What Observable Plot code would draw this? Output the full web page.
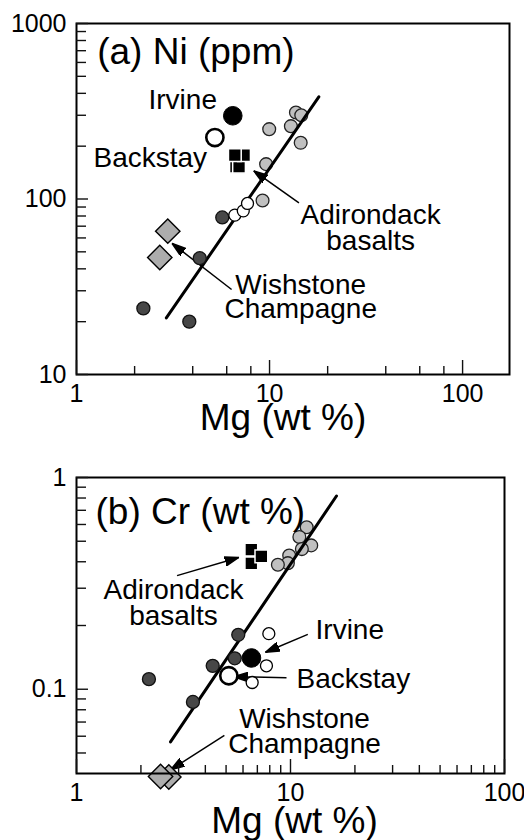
<!DOCTYPE html>
<html><head><meta charset="utf-8">
<script src="https://cdn.jsdelivr.net/npm/d3@7"></script>
<script src="https://cdn.jsdelivr.net/npm/@observablehq/plot@0.6"></script>
<style>
body{margin:0;background:#fff;}
#chart svg{display:block;}
</style></head><body><div id="chart"></div>
<script>
// ---------- Panel (a): Ni (ppm) vs Mg (wt %) ----------
const niDark = [{mg:5.69,v:78.5},{mg:4.35,v:46},{mg:2.22,v:23.8},{mg:3.84,v:20}];
const niOpenSmall = [{mg:6.61,v:80.9},{mg:7.31,v:85.6},{mg:7.69,v:94.3}];
const niLight = [{mg:9.96,v:250},{mg:13.7,v:311},{mg:14.6,v:300},{mg:12.9,v:260},{mg:14.5,v:209},{mg:9.6,v:158},{mg:9.2,v:98}];
const niIrvine = [{mg:6.45,v:298}];
const niBackstay = [{mg:5.21,v:224}];
const niAdirondack = [{mg:6.70,v:152.8},{mg:6.95,v:152.8},{mg:7.38,v:177.7},{mg:6.61,v:177.7}];
const niWishstone = [{mg:2.97,v:65.6},{mg:2.70,v:46.4}];
const niTrend = [{mg:2.92,v:21},{mg:18.0,v:382}];
const niArrows = [{x1:14.2,y1:95,x2:8.29,y2:144.6},{x1:6.36,y1:30.5,x2:3.13,y2:55.8}];
const niLabels = [
  {mg:2.36,v:323.6,t:"Irvine",a:"start"},
  {mg:1.225,v:152.4,t:"Backstay",a:"start"},
  {mg:33.4,v:72.5,t:"Adirondack",a:"middle"},
  {mg:33.4,v:51.1,t:"basalts",a:"middle"},
  {mg:14.5,v:28.9,t:"Wishstone",a:"middle"},
  {mg:14.5,v:20.9,t:"Champagne",a:"middle"}
];
const niTitle = [{mg:1.28,v:591.6,t:"(a) Ni (ppm)"}];
const niXMajor = [1,10,100];
const niXMinor = [2,4,6,8,20,40,60,80];
const niYMajor = [10,100,1000];
const niYMinor = [20,30,40,50,60,70,80,90,200,300,400,500,600,700,800,900];

// ---------- Panel (b): Cr (wt %) vs Mg (wt %) ----------
const crDark = [{mg:5.70,v:0.1808},{mg:5.49,v:0.140},{mg:4.33,v:0.129},{mg:2.18,v:0.1116},{mg:3.50,v:0.0871}];
const crOpenSmall = [{mg:7.92,v:0.183},{mg:7.72,v:0.129},{mg:6.62,v:0.1076}];
const crLight = [{mg:11.9,v:0.582},{mg:11.0,v:0.524},{mg:12.5,v:0.478},{mg:11.3,v:0.459},{mg:9.86,v:0.428},{mg:9.72,v:0.394},{mg:8.73,v:0.387}];
const crIrvine = [{mg:6.57,v:0.1405}];
const crBackstay = [{mg:5.15,v:0.1158}];
const crAdirondack = [{mg:6.56,v:0.457},{mg:6.56,v:0.393},{mg:7.31,v:0.424}];
const crWishstone = [{mg:2.70,v:0.0385},{mg:2.47,v:0.0387}];
const crTrend = [{mg:2.75,v:0.0564},{mg:16.4,v:0.818}];
const crArrows = [
  {x1:2.95,y1:0.344,x2:5.73,y2:0.419},
  {x1:12.05,y1:0.1816,x2:7.64,y2:0.1496},
  {x1:9.58,y1:0.1133,x2:5.43,y2:0.1146},
  {x1:4.91,y1:0.0606,x2:2.75,y2:0.0416}
];
const crLabels = [
  {mg:2.84,v:0.268,t:"Adirondack",a:"middle"},
  {mg:2.84,v:0.2004,t:"basalts",a:"middle"},
  {mg:13.09,v:0.173,t:"Irvine",a:"start"},
  {mg:10.67,v:0.1019,t:"Backstay",a:"start"},
  {mg:11.63,v:0.0657,t:"Wishstone",a:"middle"},
  {mg:11.63,v:0.050,t:"Champagne",a:"middle"}
];
const crTitle = [{mg:1.227,v:0.602,t:"(b) Cr (wt %)"}];
const crXMajor = [1,10,100];
const crXMinor = [2,3,4,5,6,7,8,9,20,30,40,50,60,70,80,90];
const crYMajor = [0.1,1];
const crYMinor = [0.05,0.06,0.07,0.08,0.09,0.2,0.3,0.4,0.5,0.6,0.7,0.8,0.9];

const xTitle = "Mg (wt %)";
const FONT = "'Liberation Sans', Arial, Helvetica, sans-serif";
const LIGHT = "#c0c0c0", DARK = "#474747", DIAM = "#adadad";
const TICK = "#111";

function filledHead() {
  const m = d3.create("svg:marker")
    .attr("viewBox", "-14 -5 15 10")
    .attr("markerWidth", 15).attr("markerHeight", 10)
    .attr("markerUnits", "userSpaceOnUse")
    .attr("orient", "auto")
    .attr("refX", 0).attr("refY", 0);
  m.append("path").attr("d", "M-14,-4.5L0,0L-14,4.5Z").attr("fill", "black");
  return m.node();
}

function panel(o) {
  const d = o.data;
  const FW = 524 - 76 - o.marginRight;
  const FH = o.height - o.marginTop - o.marginBottom;
  // inward ticks: frame-spanning rules inset so only `len` px remain at the axis edge
  const ticksX = (vals, len) => Plot.ruleX(vals, {x: v => v, insetTop: FH - len, stroke: TICK, strokeWidth: 1.4});
  const ticksY = (vals, len) => Plot.ruleY(vals, {y: v => v, insetRight: FW - len, stroke: TICK, strokeWidth: 1.4});
  return Plot.plot({
    width: 524, height: o.height,
    marginLeft: 76, marginRight: o.marginRight, marginTop: o.marginTop, marginBottom: o.marginBottom,
    style: {fontFamily: FONT, background: "white", color: "black"},
    x: {type: "log", domain: o.xDomain, label: null, axis: null},
    y: {type: "log", domain: o.yDomain, label: null, axis: null},
    marks: [
      Plot.axisX(o.xMajor, {anchor: "bottom", tickSize: 0, tickPadding: 10, fontSize: 25, tickFormat: v => String(v), label: null}),
      Plot.axisY(o.yMajor, {anchor: "left", tickSize: 0, tickPadding: 10, fontSize: 25, tickFormat: v => String(v), label: null}),
      Plot.text([xTitle], {frameAnchor: "bottom", text: t => t, dy: o.titleDy, dx: o.titleDx, lineAnchor: "bottom", fontSize: 37}),
      Plot.dot(d.light, {x: "mg", y: "v", r: 6.4, fill: LIGHT, stroke: "#222", strokeWidth: 1.3}),
      Plot.line(d.trend, {x: "mg", y: "v", stroke: "black", strokeWidth: 3}),
      Plot.link(d.arrows, {x1: "x1", y1: "y1", x2: "x2", y2: "y2", stroke: "black", strokeWidth: 1.5, markerEnd: filledHead}),
      Plot.dot(d.dark, {x: "mg", y: "v", r: 6.5, fill: DARK, stroke: "#111", strokeWidth: 1.3}),
      Plot.dot(d.open, {x: "mg", y: "v", r: 6, fill: "white", stroke: "black", strokeWidth: 1.3}),
      Plot.dot(d.backstay, {x: "mg", y: "v", r: 8.6, fill: "white", stroke: "black", strokeWidth: 2.6}),
      Plot.dot(d.irvine, {x: "mg", y: "v", r: 9.3, fill: "black", stroke: "black", strokeWidth: 1}),
      Plot.dot(d.adirondack, {x: "mg", y: "v", symbol: "square", r: 7.2, fill: "black", stroke: "white", strokeWidth: 1.5}),
      Plot.dot(d.wishstone, {x: "mg", y: "v", symbol: "diamond2", r: 11, fill: DIAM, stroke: "black", strokeWidth: 1.4}),
      Plot.text(d.labels.filter(l => l.a === "start"), {x: "mg", y: "v", text: "t", textAnchor: "start", lineAnchor: "bottom", fontSize: 28}),
      Plot.text(d.labels.filter(l => l.a === "middle"), {x: "mg", y: "v", text: "t", textAnchor: "middle", lineAnchor: "bottom", fontSize: 28}),
      Plot.text(d.title, {x: "mg", y: "v", text: "t", textAnchor: "start", lineAnchor: "bottom", fontSize: 37}),
      Plot.frame({stroke: "black", strokeWidth: 2}),
      ticksX(o.xMinor, 8), ticksX(o.xMajor, 14),
      ticksY(o.yMinor, 10), ticksY(o.yMajor, 12)
    ]
  });
}

const svgA = panel({
  height: 450, marginRight: 15, marginTop: 23, marginBottom: 76,
  xDomain: [1, 175], yDomain: [10, 1000],
  xMajor: niXMajor, xMinor: niXMinor, yMajor: niYMajor, yMinor: niYMinor,
  titleDy: 55, titleDx: -10,
  data: {dark: niDark, open: niOpenSmall, light: niLight, irvine: niIrvine, backstay: niBackstay,
         adirondack: niAdirondack, wishstone: niWishstone, trend: niTrend, arrows: niArrows,
         labels: niLabels, title: niTitle}
});
const svgB = panel({
  height: 390, marginRight: 20, marginTop: 27, marginBottom: 67,
  xDomain: [1, 100], yDomain: [0.04, 1],
  xMajor: crXMajor, xMinor: crXMinor, yMajor: crYMajor, yMinor: crYMinor,
  titleDy: 59, titleDx: 4,
  data: {dark: crDark, open: crOpenSmall, light: crLight, irvine: crIrvine, backstay: crBackstay,
         adirondack: crAdirondack, wishstone: crWishstone, trend: crTrend, arrows: crArrows,
         labels: crLabels, title: crTitle}
});
document.getElementById("chart").append(svgA, svgB);
</script></body></html>
